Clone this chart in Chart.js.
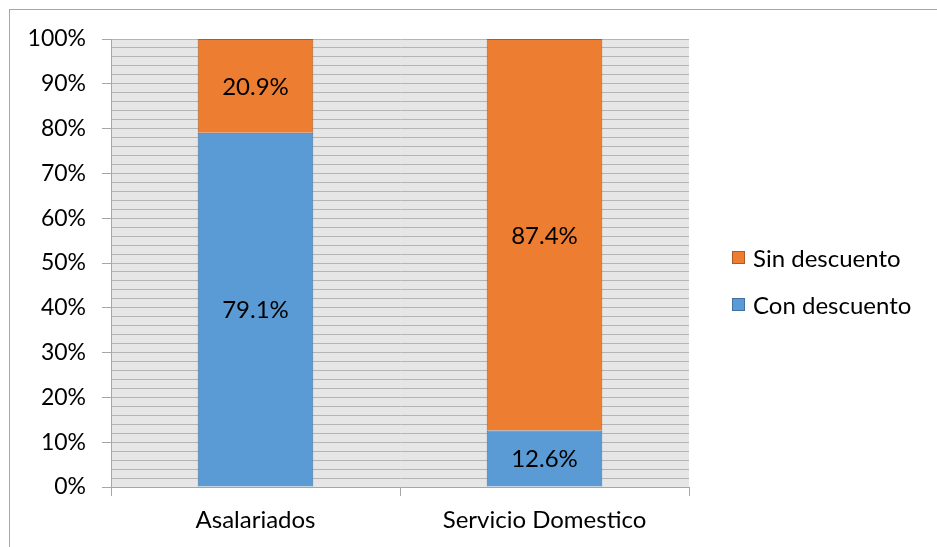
<!DOCTYPE html>
<html>
<head>
<meta charset="utf-8">
<script src="https://cdn.jsdelivr.net/npm/chart.js@4"></script>
<style>
html,body{margin:0;padding:0;background:#fff;}
#wrap{position:relative;width:937px;height:547px;overflow:hidden;}
#frame{position:absolute;left:9px;top:9px;width:940px;height:560px;border-left:1px solid #a6a6a6;border-top:1px solid #a6a6a6;box-sizing:border-box;pointer-events:none;}
#legend{position:absolute;left:732px;top:243px;font-family:Lato,"Noto Sans",sans-serif;font-size:24px;color:#000;}
.item{display:flex;align-items:center;height:28px;margin-bottom:19px;white-space:nowrap;}
.sw{width:13px;height:13px;margin-right:8px;box-sizing:border-box;}
canvas{position:absolute;left:0;top:0;}
</style>
</head>
<body>
<div id="wrap">
<canvas id="c" width="937" height="547"></canvas>
<div id="frame"></div>
<div id="legend"></div>
</div>
<script>
const categories = ["Asalariados", "Servicio Domestico"];
const conDescuento = [79.1, 12.6];
const sinDescuento = [20.9, 87.4];
const seriesNames = ["Con descuento", "Sin descuento"];
const yTicks = [0,10,20,30,40,50,60,70,80,90,100];

const FONT = 'Lato, "Noto Sans", sans-serif';
const colors = [
  {fill:'#5b9bd5', border:'#41719c'},
  {fill:'#ed7d31', border:'#ae5a21'}
];

const bgPlugin = {
  id:'plotbg',
  beforeDraw(chart){
    const {ctx, chartArea:a} = chart;
    ctx.save();
    ctx.fillStyle = '#e6e6e6';
    ctx.fillRect(a.left, a.top, a.right-a.left, a.bottom-a.top);
    ctx.restore();
  }
};
const labelPlugin = {
  id:'vlabels',
  afterDatasetsDraw(chart){
    const ctx = chart.ctx;
    ctx.save();
    ctx.font = '24px ' + FONT;
    ctx.fillStyle = '#000';
    ctx.textAlign = 'center';
    ctx.textBaseline = 'middle';
    chart.data.datasets.forEach((ds, di) => {
      chart.getDatasetMeta(di).data.forEach((bar, i) => {
        const cy = (bar.y + bar.base) / 2;
        ctx.fillText(ds.data[i].toFixed(1) + '%', bar.x, cy + 1);
      });
    });
    ctx.restore();
  }
};

const chart = new Chart(document.getElementById('c'), {
  type:'bar',
  data:{
    labels:categories,
    datasets:[
      {label:seriesNames[0], data:conDescuento, backgroundColor:colors[0].fill, borderColor:colors[0].border, borderWidth:1, categoryPercentage:1, barPercentage:0.4},
      {label:seriesNames[1], data:sinDescuento, backgroundColor:colors[1].fill, borderColor:colors[1].border, borderWidth:1, categoryPercentage:1, barPercentage:0.4}
    ]
  },
  options:{
    responsive:false,
    animation:false,
    layout:{padding:{left:10, top:39, right:248, bottom:10}},
    plugins:{legend:{display:false}, tooltip:{enabled:false}},
    scales:{
      x:{
        stacked:true,
        afterFit(s){ s.height = 50; },
        grid:{offset:true, drawOnChartArea:false, tickLength:9, color:'#a6a6a6'},
        border:{color:'#a6a6a6'},
        ticks:{font:{family:FONT, size:24}, color:'#000', padding:10}
      },
      y:{
        stacked:true, min:0, max:100,
        afterFit(s){ s.width = 101; },
        afterBuildTicks(s){ const t=[]; for(let v=0; v<=100; v+=2) t.push({value:v}); s.ticks=t; },
        grid:{color:'#b4b4b4', tickLength:9, tickColor:(c)=> (c.tick && c.tick.value % 10 === 0) ? '#a6a6a6' : 'rgba(0,0,0,0)'},
        border:{color:'#a6a6a6'},
        ticks:{autoSkip:false, font:{family:FONT, size:23}, color:'#000', padding:16,
          callback:(v)=> yTicks.includes(v) ? v + '%' : ''}
      }
    }
  },
  plugins:[bgPlugin, labelPlugin]
});

const lg = document.getElementById('legend');
[1,0].forEach(i => {
  const d = document.createElement('div'); d.className='item';
  const s = document.createElement('span'); s.className='sw';
  s.style.background = colors[i].fill; s.style.border = '1px solid ' + colors[i].border;
  const t = document.createElement('span'); t.textContent = seriesNames[i];
  d.appendChild(s); d.appendChild(t); lg.appendChild(d);
});
</script>
</body>
</html>
